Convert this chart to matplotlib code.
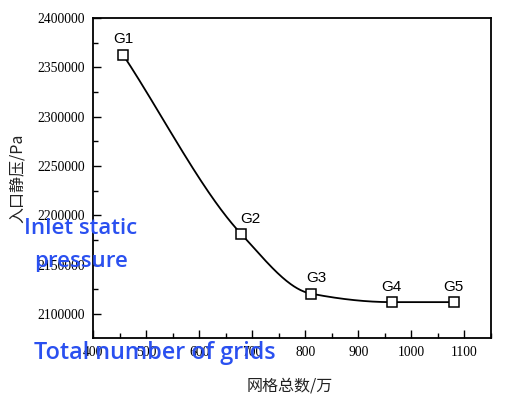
import numpy as np
import matplotlib
matplotlib.use("Agg")
import matplotlib.pyplot as plt
from matplotlib.ticker import MultipleLocator, FormatStrFormatter

# Data
grid_labels = ["G1", "G2", "G3", "G4", "G5"]
grid_counts = [457, 679, 810, 963, 1080]          # 网格总数/万
inlet_pressure = [2362200, 2181100, 2120600, 2111900, 2111900]  # Pa


def pchip(x, y, xs):
    x = np.asarray(x, float); y = np.asarray(y, float)
    h = np.diff(x); d = np.diff(y) / h
    n = len(x); m = np.zeros(n)
    for k in range(1, n - 1):
        if d[k - 1] * d[k] > 0:
            w1 = 2 * h[k] + h[k - 1]; w2 = h[k] + 2 * h[k - 1]
            m[k] = (w1 + w2) / (w1 / d[k - 1] + w2 / d[k])
    m[0] = d[0]; m[-1] = 0.0 if d[-1] == 0 else d[-1]
    out = np.empty_like(xs)
    for i, xv in enumerate(xs):
        k = min(np.searchsorted(x, xv) - 1, n - 2); k = max(k, 0)
        t = (xv - x[k]) / h[k]
        h00 = 2*t**3 - 3*t**2 + 1; h10 = t**3 - 2*t**2 + t
        h01 = -2*t**3 + 3*t**2; h11 = t**3 - t**2
        out[i] = h00*y[k] + h10*h[k]*m[k] + h01*y[k+1] + h11*h[k]*m[k+1]
    return out


fig = plt.figure(figsize=(5.2, 3.97), dpi=100)
ax = fig.add_axes([0.179, 0.149, 0.765, 0.806])

xs = np.linspace(grid_counts[0], grid_counts[-1], 400)
ax.plot(xs, pchip(grid_counts, inlet_pressure, xs), color="black", lw=1.3, zorder=2)
ax.plot(grid_counts, inlet_pressure, ls="none", marker="s", ms=7.2,
        mfc="white", mec="black", mew=1.1, zorder=3)

offsets = [(0, 11.5), (7, 11), (4, 11), (0, 11), (0, 11)]
for lab, x, y, off in zip(grid_labels, grid_counts, inlet_pressure, offsets):
    ax.annotate(lab, (x, y), xytext=off, textcoords="offset points",
                ha="center", va="center", fontsize=11,
                family="Liberation Sans", color="black")

ax.set_xlim(400, 1150)
ax.set_ylim(2075700, 2400000)
ax.xaxis.set_major_locator(MultipleLocator(100))
ax.xaxis.set_minor_locator(MultipleLocator(50))
ax.yaxis.set_major_locator(MultipleLocator(50000))
ax.yaxis.set_minor_locator(MultipleLocator(25000))
ax.xaxis.set_major_formatter(FormatStrFormatter("%d"))
ax.yaxis.set_major_formatter(FormatStrFormatter("%d"))
ax.tick_params(which="both", direction="in", top=False, right=False)
ax.tick_params(which="major", length=6, width=1.0)
ax.tick_params(which="minor", length=3.5, width=1.0)
for lab in ax.get_xticklabels() + ax.get_yticklabels():
    lab.set_family("Liberation Serif")
    lab.set_fontsize(9.8)
ax.tick_params(axis="x", pad=6)
ax.tick_params(axis="y", pad=6)
for s in ax.spines.values():
    s.set_linewidth(1.3)

ax.set_xlabel("网格总数/万", family=["Noto Sans CJK SC", "DejaVu Sans"],
              fontsize=11.5, color="#222222")
ax.xaxis.set_label_coords(0.495, -0.125)
ax.set_ylabel("入口静压/Pa", family=["Noto Sans CJK SC", "DejaVu Sans"],
              fontsize=11.5, color="#222222")
ax.yaxis.set_label_coords(-0.17, 0.5)

blue = "#2a50f0"
bfont = dict(color=blue, family="Open Sans", weight="semibold",
             ha="center", va="center")
fig.text(81 / 520, 1 - 228 / 397, "Inlet static", fontsize=16, **bfont)
fig.text(81 / 520, 1 - 262 / 397, "pressure", fontsize=16, **bfont)
fig.text(155 / 520, 1 - 353 / 397, "Total number of grids", fontsize=16.8, **bfont)

fig.savefig("out.png", dpi=100, facecolor="white")
